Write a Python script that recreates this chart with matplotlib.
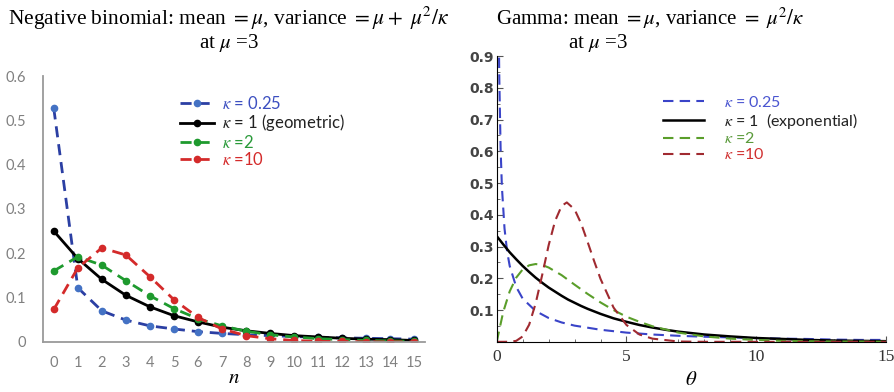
import matplotlib
matplotlib.use("Agg")
import matplotlib.pyplot as plt
from matplotlib.ticker import MultipleLocator

plt.rcParams['mathtext.fontset'] = 'stix'

# negative binomial pmf at mu = 3
n = list(range(16))
nb_k025 = [0.527, 0.122, 0.070, 0.049, 0.036, 0.029, 0.023, 0.019, 0.016, 0.014, 0.012, 0.010, 0.009, 0.008, 0.007, 0.006]
nb_k1 = [0.250, 0.188, 0.141, 0.105, 0.079, 0.059, 0.045, 0.033, 0.025, 0.019, 0.014, 0.011, 0.008, 0.006, 0.005, 0.003]
nb_k2 = [0.160, 0.192, 0.173, 0.138, 0.104, 0.075, 0.052, 0.036, 0.024, 0.016, 0.011, 0.007, 0.005, 0.003, 0.002, 0.001]
nb_k10 = [0.073, 0.167, 0.212, 0.196, 0.147, 0.095, 0.055, 0.029, 0.014, 0.007, 0.003, 0.001, 0.001, 0.0, 0.0, 0.0]

# gamma densities at mu = 3
th_k025 = [0.09, 0.1, 0.15, 0.2, 0.3, 0.4, 0.5, 0.75, 1, 1.5, 2, 2.5, 3, 4, 5, 6, 7, 8, 9, 10, 11, 12, 13, 14, 15]
g_k025 = [0.895, 0.826, 0.607, 0.487, 0.357, 0.285, 0.239, 0.173, 0.136, 0.097, 0.075, 0.061, 0.051, 0.038,
          0.029, 0.023, 0.019, 0.016, 0.014, 0.012, 0.010, 0.009, 0.007, 0.006, 0.006]
th_k1 = [0, 0.25, 0.5, 0.75, 1, 1.25, 1.5, 1.75, 2, 2.25, 2.5, 2.75, 3, 3.25, 3.5, 3.75, 4, 4.5, 5, 5.5, 6, 6.5, 7,
         8, 9, 10, 11, 12, 13, 14, 15]
g_k1 = [0.333, 0.307, 0.282, 0.260, 0.239, 0.220, 0.202, 0.186, 0.171, 0.158, 0.145, 0.133, 0.123, 0.113, 0.104,
        0.096, 0.088, 0.074, 0.063, 0.053, 0.045, 0.038, 0.032, 0.023, 0.017, 0.012, 0.009, 0.006, 0.004, 0.003, 0.002]
th_k2 = [0, 0.25, 0.5, 0.75, 1, 1.25, 1.5, 1.75, 2, 2.5, 3, 3.5, 4, 4.5, 5, 5.5, 6, 7, 8, 9, 10, 11, 12, 13, 14, 15]
g_k2 = [0.0, 0.094, 0.159, 0.202, 0.228, 0.241, 0.245, 0.242, 0.234, 0.210, 0.180, 0.151, 0.124, 0.100, 0.079,
        0.063, 0.049, 0.029, 0.017, 0.010, 0.006, 0.003, 0.002, 0.001, 0.001, 0.0]
th_k10 = [0, 0.25, 0.5, 0.75, 1, 1.25, 1.5, 1.75, 2, 2.25, 2.5, 2.7, 3, 3.25, 3.5, 3.75, 4, 4.5, 5, 5.5, 6, 7, 8,
          9, 10, 12, 15]
g_k10 = [0.0, 0.0, 0.0002, 0.003, 0.017, 0.054, 0.121, 0.210, 0.304, 0.381, 0.428, 0.439, 0.417, 0.373, 0.315,
         0.255, 0.198, 0.108, 0.053, 0.023, 0.010, 0.001, 0.0, 0.0, 0.0, 0.0, 0.0]

fig = plt.figure(figsize=(8.95, 3.92), dpi=100)

# ---- left panel: negative binomial
ax1 = fig.add_axes([0.048, 0.128, 0.427, 0.678])
dash = (0, (4, 2.5))
ax1.plot(n, nb_k025, ls=dash, color='#2b3fa3', lw=2, marker='o', ms=4.5,
         mfc='#4472c4', mec='#4472c4', label=r'$\kappa$ = 0.25')
ax1.plot(n, nb_k1, ls='-', color='black', lw=2, marker='o', ms=4.5, label=r'$\kappa$ = 1 (geometric)')
ax1.plot(n, nb_k2, ls=dash, color='#1e9a2e', lw=2, marker='o', ms=4.5, label=r'$\kappa$ =2')
ax1.plot(n, nb_k10, ls=dash, color='#d42a2a', lw=2, marker='o', ms=4.5, label=r'$\kappa$ =10')

ax1.set_xlim(-0.45, 15.45)
ax1.set_ylim(0, 0.6)
ax1.set_xticks(n)
ax1.set_yticks([0, 0.1, 0.2, 0.3, 0.4, 0.5, 0.6])
ax1.set_yticklabels(['0', '0.1', '0.2', '0.3', '0.4', '0.5', '0.6'])
for s in ['top', 'right']:
    ax1.spines[s].set_visible(False)
for s in ['left', 'bottom']:
    ax1.spines[s].set_color('#9a9a9a')
    ax1.spines[s].set_linewidth(1.3)
ax1.tick_params(length=0, labelcolor='#808080', labelsize=10.5)
ax1.tick_params(axis='y', pad=12)
ax1.tick_params(axis='x', pad=10)
for t in ax1.get_xticklabels() + ax1.get_yticklabels():
    t.set_fontfamily('Lato')
ax1.set_xlabel(r'$n$', fontsize=15, labelpad=-2)
leg1 = ax1.legend(loc='upper left', bbox_to_anchor=(0.32, 0.985), frameon=False,
                  handlelength=2.0, handletextpad=0.5, labelspacing=0.02,
                  labelcolor=['#3c4fc0', '#222222', '#2a9a3a', '#d42a2a'],
                  prop={'family': 'Lato', 'size': 12})

fig.text(0.256, 0.953, r'Negative binomial: mean $=\mu$, variance $=\mu+\ \mu^2/\kappa$',
         ha='center', va='center', fontsize=15.5, family='Liberation Serif')
fig.text(0.256, 0.891, r'at $\mu$ =3', ha='center', va='center', fontsize=15, family='Liberation Serif')

# ---- right panel: gamma
ax2 = fig.add_axes([0.555, 0.128, 0.435, 0.729])
gdash = (0, (5, 3))
ax2.plot(th_k025, g_k025, ls=gdash, color='#3a44c8', lw=1.5, label=r'$\kappa$ = 0.25')
ax2.plot(th_k1, g_k1, ls='-', color='black', lw=1.8, label=r'$\kappa$ = 1  (exponential)')
ax2.plot(th_k2, g_k2, ls=gdash, color='#5a9e2a', lw=1.5, label=r'$\kappa$ =2')
ax2.plot(th_k10, g_k10, ls=gdash, color='#a02a30', lw=1.5, label=r'$\kappa$ =10')

ax2.set_xlim(0, 15)
ax2.set_ylim(0, 0.9)
ax2.set_xticks([0, 5, 10, 15])
ax2.xaxis.set_minor_locator(MultipleLocator(1))
ax2.set_yticks([0.1, 0.2, 0.3, 0.4, 0.5, 0.6, 0.7, 0.8, 0.9])
ax2.yaxis.set_minor_locator(MultipleLocator(0.05))
for s in ['top', 'right']:
    ax2.spines[s].set_visible(False)
ax2.tick_params(which='both', direction='in', color='#555555')
ax2.tick_params(which='major', length=4)
ax2.tick_params(which='minor', length=2.5)
ax2.tick_params(axis='y', pad=2, labelsize=10, labelcolor='#444444')
ax2.tick_params(axis='x', pad=5, labelsize=12.5, labelcolor='#333333')
for t in ax2.get_yticklabels():
    t.set_fontweight('bold')
for t in ax2.get_xticklabels():
    t.set_fontfamily('Liberation Serif')
ax2.set_xlabel(r'$\theta$', fontsize=15, labelpad=3)
leg2 = ax2.legend(loc='upper left', bbox_to_anchor=(0.39, 0.915), frameon=False,
                  handlelength=2.6, handletextpad=1.2, labelspacing=0.05,
                  labelcolor=['#4a55d0', '#222222', '#5a9a3a', '#d03030'],
                  prop={'family': 'Lato', 'size': 11.5})

fig.text(0.727, 0.953, r'Gamma: mean $=\mu$, variance $=\ \mu^2/\kappa$',
         ha='center', va='center', fontsize=15, family='Liberation Serif')
fig.text(0.668, 0.891, r'at $\mu$ =3', ha='center', va='center', fontsize=15, family='Liberation Serif')

fig.savefig('out.png', dpi=100)
